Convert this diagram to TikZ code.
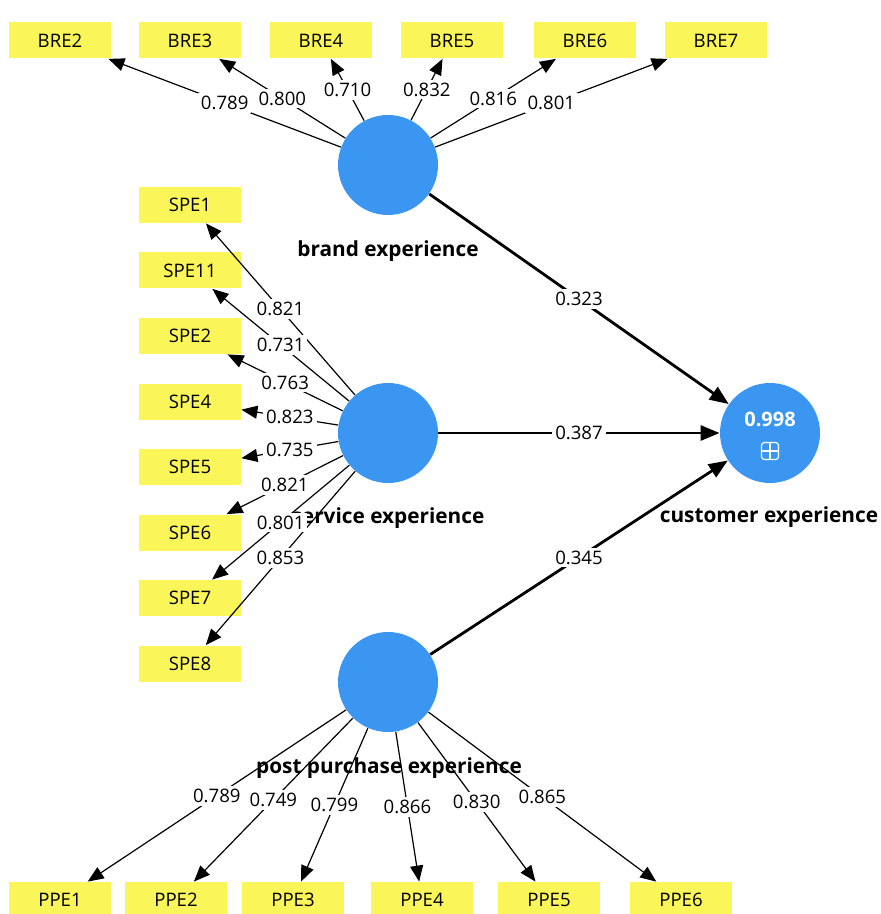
\documentclass[tikz,border=0pt]{standalone}
\usepackage{fontspec}
\setmainfont{Open Sans}
\usetikzlibrary{arrows.meta}
\definecolor{lvblue}{RGB}{58,150,240}
\definecolor{mvyellow}{RGB}{250,246,90}

\begin{document}
\begin{tikzpicture}[x=0.5pt,y=-0.5pt,every node/.style={font=\fontsize{9.3}{11}\selectfont},lv/.style={circle,fill=lvblue,minimum size=50pt,inner sep=0pt},mv/.style={fill=mvyellow,minimum width=51pt,minimum height=18pt,inner sep=0pt},lvname/.style={font=\fontsize{10.4}{12}\selectfont\bfseries,inner sep=0pt,anchor=base},loading/.style={-{Triangle[length=8pt,width=6.5pt]},line width=0.6pt},struct/.style={-{Triangle[length=9.5pt,width=7.5pt]},line width=1.4pt},coef/.style={fill=white,inner sep=1.5pt}]
\useasboundingbox (0,0) rectangle (880,914);
% latent variables
\node[lv] (be) at (388,165) {};
\node[lv] (se) at (388,433) {};
\node[lv] (pe) at (388,682) {};
\node[lv] (ce) at (770,433) {};
\node[lvname] (bename) at (388,257) {brand experience};
\node[lvname] (sename) at (388,523) {service experience};
\node[lvname] (pename) at (389,773) {post purchase experience};
\node[lvname] (cename) at (769,522) {customer experience};
\node[font=\fontsize{10}{12}\selectfont\bfseries,text=white] (cer2) at (770,419) {0.998};
\node[draw=white,rounded corners=1.5pt,minimum size=8.5pt,inner sep=0pt,line width=0.6pt] (ceicon) at (770,451) {};
\draw[white,line width=0.6pt] (ceicon.west)--(ceicon.east) (ceicon.north)--(ceicon.south);
% indicators
\node[mv] (bre2) at (60,40.5) {BRE2};
\node[mv] (bre3) at (190,40.5) {BRE3};
\node[mv] (bre4) at (321,40.5) {BRE4};
\node[mv] (bre5) at (452,40.5) {BRE5};
\node[mv] (bre6) at (585,40.5) {BRE6};
\node[mv] (bre7) at (716,40.5) {BRE7};
\node[mv] (spe1) at (190,205) {SPE1};
\node[mv] (spe11) at (190,270.5) {SPE11};
\node[mv] (spe2) at (190,336) {SPE2};
\node[mv] (spe4) at (190,401.5) {SPE4};
\node[mv] (spe5) at (190,467) {SPE5};
\node[mv] (spe6) at (190,532.5) {SPE6};
\node[mv] (spe7) at (190,598) {SPE7};
\node[mv] (spe8) at (190,663.5) {SPE8};
\node[mv] (ppe1) at (60,900) {PPE1};
\node[mv] (ppe2) at (176,900) {PPE2};
\node[mv] (ppe3) at (293,900) {PPE3};
\node[mv] (ppe4) at (422,900) {PPE4};
\node[mv] (ppe5) at (549,900) {PPE5};
\node[mv] (ppe6) at (681,900) {PPE6};
% outer loadings
\draw[loading] (be)--(bre2); \draw[loading] (be)--(bre3); \draw[loading] (be)--(bre4);
\draw[loading] (be)--(bre5); \draw[loading] (be)--(bre6); \draw[loading] (be)--(bre7);
\draw[loading] (se)--(spe1); \draw[loading] (se)--(spe11); \draw[loading] (se)--(spe2); \draw[loading] (se)--(spe4);
\draw[loading] (se)--(spe5); \draw[loading] (se)--(spe6); \draw[loading] (se)--(spe7); \draw[loading] (se)--(spe8);
\draw[loading] (pe)--(ppe1); \draw[loading] (pe)--(ppe2); \draw[loading] (pe)--(ppe3);
\draw[loading] (pe)--(ppe4); \draw[loading] (pe)--(ppe5); \draw[loading] (pe)--(ppe6);
% path coefficients
\draw[struct] (be)-- node[coef]{0.323} (ce);
\draw[struct] (se)-- node[coef]{0.387} (ce);
\draw[struct] (pe)-- node[coef]{0.345} (ce);
% loading values on top
\path (be)-- node[coef]{0.789} (bre2); \path (be)-- node[coef]{0.800} (bre3); \path (be)-- node[coef]{0.710} (bre4);
\path (be)-- node[coef]{0.832} (bre5); \path (be)-- node[coef]{0.816} (bre6); \path (be)-- node[coef]{0.801} (bre7);
\path (se)-- node[coef]{0.821} (spe1); \path (se)-- node[coef]{0.731} (spe11); \path (se)-- node[coef]{0.763} (spe2);
\path (se)-- node[coef]{0.823} (spe4); \path (se)-- node[coef]{0.735} (spe5); \path (se)-- node[coef]{0.821} (spe6);
\path (se)-- node[coef]{0.801} (spe7); \path (se)-- node[coef]{0.853} (spe8);
\path (pe)-- node[coef]{0.789} (ppe1); \path (pe)-- node[coef]{0.749} (ppe2); \path (pe)-- node[coef]{0.799} (ppe3);
\path (pe)-- node[coef]{0.866} (ppe4); \path (pe)-- node[coef]{0.830} (ppe5); \path (pe)-- node[coef]{0.865} (ppe6);
\end{tikzpicture}
\end{document}
